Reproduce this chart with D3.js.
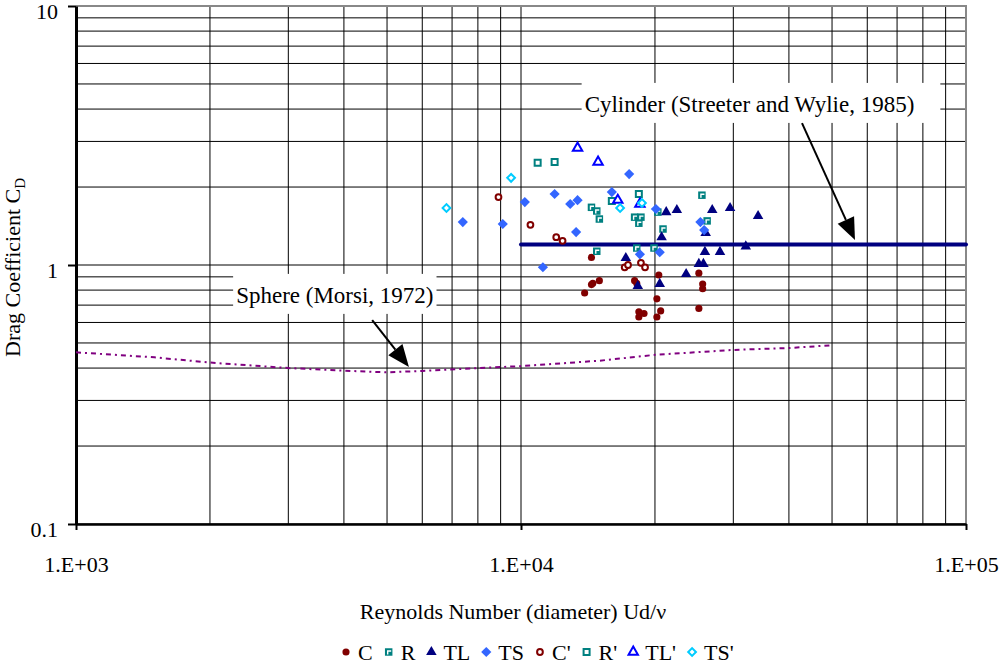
<!DOCTYPE html>
<html>
<head>
<meta charset="utf-8">
<script src="https://cdn.jsdelivr.net/npm/d3@7"></script>
<style>
  html, body { margin: 0; padding: 0; background: #fff; }
  svg { display: block; font-family: "Liberation Serif", "Times New Roman", serif; }
</style>
</head>
<body>
<svg id="chart" width="1000" height="666"></svg>
<script>
// Reynolds number (Re) and drag coefficient (Cd) for each measured series
const reC   = [14400, 15000, 14500, 14400, 13900, 18000, 18200, 20400, 20200, 25100, 25600, 25600, 25100, 18400, 18900, 18400, 20600, 20200];
const cdC   = [1.07, 0.87, 0.85, 0.84, 0.78, 0.87, 0.85, 0.915, 0.74, 0.93, 0.845, 0.81, 0.68, 0.66, 0.65, 0.63, 0.665, 0.63];

const reR   = [14400, 14800, 15000, 14800, 18000, 18600, 18400, 20300, 20850, 25500, 26200, 18200, 19900];
const cdR   = [1.67, 1.616, 1.505, 1.13, 1.53, 1.53, 1.45, 1.60, 1.377, 1.86, 1.48, 1.163, 1.163];

const reTL  = [21200, 22400, 26900, 29500, 34100, 26000, 20700, 17200, 25900, 28000, 32000, 25100, 25700, 23500, 18300, 20500];
const cdTL  = [1.60, 1.63, 1.63, 1.66, 1.546, 1.33, 1.28, 1.064, 1.123, 1.123, 1.18, 1.01, 1.01, 0.923, 0.83, 0.845];

const reTS  = [7400, 9100, 10200, 11900, 12900, 13400, 13300, 11200, 17500, 16000, 20100, 25300, 25800, 18500, 20500];
const cdTS  = [1.465, 1.44, 1.75, 1.88, 1.72, 1.78, 1.34, 0.98, 2.245, 1.913, 1.645, 1.465, 1.364, 1.10, 1.12];

const reCp  = [8900, 10500, 12000, 12400, 17100, 17400, 18600, 19000];
const cdCp  = [1.83, 1.43, 1.28, 1.24, 0.98, 1.0, 1.02, 0.98];

const reRp  = [10900, 11900, 16000, 18400];
const cdRp  = [2.48, 2.50, 1.766, 1.878];

const reTLp = [13400, 14900, 16500, 18500];
const cdTLp = [2.83, 2.50, 1.78, 1.72];

const reTSp = [6800, 9500, 16700, 18700];
const cdTSp = [1.66, 2.17, 1.66, 1.735];

// Reference curves
const cylinderRe = [10000, 100000];
const cylinderCd = [1.2, 1.2];
const sphereRe = [1000, 1500, 2000, 3000, 4000, 5000, 6000, 8000, 10000, 15000, 20000, 30000, 40000, 50000];
const sphereCd = [0.46, 0.44, 0.42, 0.40, 0.391, 0.385, 0.39, 0.40, 0.407, 0.427, 0.45, 0.47, 0.478, 0.49];

// Axis ticks
const xTickValues = [1e3, 1e4, 1e5];
const xTickLabels = ["1.E+03", "1.E+04", "1.E+05"];
const yTickValues = [0.1, 1, 10];
const yTickLabels = ["0.1", "1", "10"];

// Annotations: label anchor and arrow (tail -> head) in data units
const cylinderNote = { text: "Cylinder (Streeter and Wylie, 1985)", re: 13900, cd: 3.90, padRight: 26, tail: [42800, 3.53], head: [56300, 1.249] };
const sphereNote   = { text: "Sphere (Morsi, 1972)", re: 2290, cd: 0.714, padRight: 3, tail: [4630, 0.613], head: [5600, 0.404] };

const seriesNames = ["C", "R", "TL", "TS", "C'", "R'", "TL'", "TS'"];

const svg = d3.select("#chart");
const margin = { left: 76, right: 34, top: 6, bottom: 142 };
const W = 1000, H = 666;

const x = d3.scaleLog().domain([1e3, 1e5]).range([margin.left, W - margin.right]);
const y = d3.scaleLog().domain([0.1, 10]).range([H - margin.bottom, margin.top]);

const FONT = 22;

// Grid
const grid = svg.append("g");
grid.selectAll("line.v").data(x.ticks()).join("line")
  .attr("x1", d => x(d)).attr("x2", d => x(d))
  .attr("y1", y(10)).attr("y2", y(0.1))
  .attr("stroke", "#000").attr("stroke-width", 1);
grid.selectAll("line.h").data(y.ticks()).join("line")
  .attr("x1", x(1e3)).attr("x2", x(1e5))
  .attr("y1", d => y(d)).attr("y2", d => y(d))
  .attr("stroke", "#000").attr("stroke-width", 1);

// Plot frame: grey top and right edges
svg.append("path")
  .attr("d", `M${x(1e3)},${y(10)}H${x(1e5)}V${y(0.1)}`)
  .attr("fill", "none").attr("stroke", "#888").attr("stroke-width", 2);

// Axes
const xAxis = d3.axisBottom(x).tickValues(xTickValues)
  .tickFormat((d, i) => xTickLabels[i]).tickSize(6).tickSizeOuter(0).tickPadding(26);
const gx = svg.append("g").attr("transform", `translate(0,${y(0.1)})`).call(xAxis);
gx.select(".domain").attr("stroke-width", 2.5);
gx.selectAll(".tick line").attr("stroke-width", 2);
gx.selectAll("text").attr("font-size", FONT).attr("font-family", "Liberation Serif, serif").attr("fill", "#000");

const yAxis = d3.axisLeft(y).tickValues(yTickValues)
  .tickFormat((d, i) => yTickLabels[i]).tickSize(8).tickSizeOuter(0).tickPadding(10);
const gy = svg.append("g").attr("transform", `translate(${x(1e3)},0)`).call(yAxis);
gy.select(".domain").attr("stroke-width", 3);
gy.selectAll(".tick line").attr("stroke-width", 2);
gy.selectAll("text").attr("font-size", FONT).attr("font-family", "Liberation Serif, serif")
  .attr("fill", "#000").attr("dy", "0.55em");

// Axis titles
svg.append("text")
  .attr("x", 513).attr("y", 619).attr("text-anchor", "middle")
  .attr("font-size", FONT).text("Reynolds Number (diameter) Ud/\u03bd");

const yt = svg.append("text")
  .attr("transform", "translate(20,357) rotate(-90)")
  .attr("font-size", FONT);
yt.append("tspan").text("Drag Coefficient C");
yt.append("tspan").attr("font-size", 15).attr("dy", 5).text("D");

// Annotation labels on white boxes
function note(n) {
  const g = svg.append("g");
  const t = g.append("text").attr("x", x(n.re)).attr("y", y(n.cd))
    .attr("font-size", 23).text(n.text);
  const bb = t.node().getBBox();
  g.insert("rect", "text")
    .attr("x", bb.x - 3).attr("y", y(n.cd) - 29)
    .attr("width", bb.width + 3 + n.padRight).attr("height", 40)
    .attr("fill", "#fff");
  return g;
}
note(cylinderNote);
note(sphereNote);

// Sphere curve
const line = d3.line().x(d => x(d[0])).y(d => y(d[1]));
svg.append("path")
  .datum(d3.zip(sphereRe, sphereCd))
  .attr("d", line).attr("fill", "none")
  .attr("stroke", "#800080").attr("stroke-width", 2)
  .attr("stroke-dasharray", "5,4,2,4");

// Cylinder line
svg.append("path")
  .datum(d3.zip(cylinderRe, cylinderCd))
  .attr("d", line).attr("fill", "none")
  .attr("stroke", "#000080").attr("stroke-width", 4).attr("stroke-linecap", "round");

// Arrows
function arrow(n) {
  const x0 = x(n.tail[0]), y0 = y(n.tail[1]);
  const x1 = x(n.head[0]), y1 = y(n.head[1]);
  const ang = Math.atan2(y1 - y0, x1 - x0);
  const L = 22, Wd = 9;
  const bx = x1 - L * Math.cos(ang), by = y1 - L * Math.sin(ang);
  svg.append("line").attr("x1", x0).attr("y1", y0).attr("x2", bx).attr("y2", by)
    .attr("stroke", "#000").attr("stroke-width", 2);
  const px = -Math.sin(ang) * Wd, py = Math.cos(ang) * Wd;
  svg.append("path")
    .attr("d", `M${x1},${y1}L${bx + px},${by + py}L${bx - px},${by - py}Z`)
    .attr("fill", "#000");
}
arrow(cylinderNote);
arrow(sphereNote);

// Marker definitions
const shapes = {
  "C":   { type: d3.symbolCircle,   size: 40, fill: "#800000", stroke: "none" },
  "R":   { type: d3.symbolSquare,   size: 56, fill: "#008080", stroke: "none", mark: true },
  "TL":  { type: d3.symbolTriangle, size: 48, fill: "#000080", stroke: "none" },
  "TS":  { type: d3.symbolSquare,   size: 52, fill: "#3366FF", stroke: "none", rot: 45 },
  "C'":  { type: d3.symbolCircle,   size: 26, fill: "#fff", stroke: "#800000" },
  "R'":  { type: d3.symbolSquare,   size: 36, fill: "#fff", stroke: "#008080" },
  "TL'": { type: d3.symbolTriangle, size: 38, fill: "#fff", stroke: "#0000FF" },
  "TS'": { type: d3.symbolSquare,   size: 30, fill: "#fff", stroke: "#00CCFF", rot: 45 }
};

function drawMarker(g, name, cx, cy) {
  const s = shapes[name];
  const m = g.append("g").attr("transform", `translate(${cx},${cy})`);
  m.append("path")
    .attr("d", d3.symbol().type(s.type).size(s.size)())
    .attr("transform", s.rot ? `rotate(${s.rot})` : null)
    .attr("fill", s.fill).attr("stroke", s.stroke).attr("stroke-width", 2);
  if (s.mark) {
    m.append("path").attr("d", "M-1,2.5V-1H2.5")
      .attr("fill", "none").attr("stroke", "#fff").attr("stroke-width", 1.4);
  }
}

const seriesData = {
  "C": [reC, cdC], "R": [reR, cdR], "TL": [reTL, cdTL], "TS": [reTS, cdTS],
  "C'": [reCp, cdCp], "R'": [reRp, cdRp], "TL'": [reTLp, cdTLp], "TS'": [reTSp, cdTSp]
};

const pts = svg.append("g");
seriesNames.forEach(name => {
  const [re, cd] = seriesData[name];
  re.forEach((r, i) => drawMarker(pts, name, x(r), y(cd[i])));
});

// Legend
const leg = svg.append("g");
let cursor = 346;
seriesNames.forEach(name => {
  drawMarker(leg, name, cursor, 652);
  const t = leg.append("text").attr("x", cursor + 12).attr("y", 660)
    .attr("font-size", FONT).text(name);
  cursor += 12 + t.node().getComputedTextLength() + 16;
});
</script>
</body>
</html>
